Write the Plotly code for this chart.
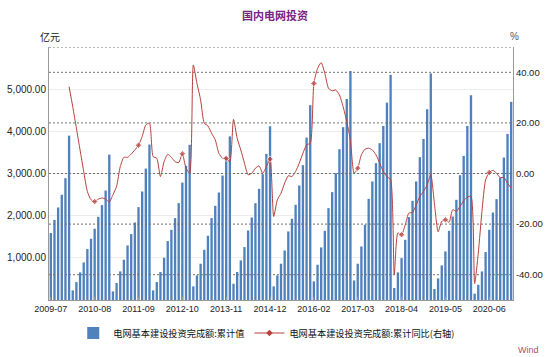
import plotly.graph_objects as go

# ---------------- data ----------------
years = list(range(2009, 2021))
months = []
for yr in years:
    first = 7 if yr == 2009 else 2   # January not published (Jan-Feb combined)
    for m in range(first, 13):
        months.append(f"{yr}-{m:02d}")

tick_labels = ["2009-07", "2010-08", "2011-09", "2012-10", "2013-11", "2014-12",
               "2016-02", "2017-03", "2018-04", "2019-05", "2020-06"]

left_ticks = [1000, 2000, 3000, 4000, 5000]
right_ticks = [-40, -20, 0, 20, 40]
right_tick_text = ["-40.00", "-20.00", "0.00", "20.00", "40.00"]

# 电网基本建设投资完成额:累计值 (亿元)
invest_cum = [
    1590, 1900, 2195, 2495, 2890, 3898,                              # 2009 Jul-Dec
    228, 425, 655, 891, 1207, 1452, 1689, 1973, 2250, 2596, 3448,     # 2010
    204, 402, 678, 955, 1294, 1563, 1838, 2203, 2573, 3117, 3687,     # 2011
    228, 426, 663, 1002, 1397, 1665, 1942, 2297, 2785, 3181, 3680,    # 2012
    323, 583, 860, 1191, 1523, 1942, 2234, 2549, 2952, 3378, 3880,    # 2013
    386, 663, 939, 1255, 1649, 1957, 2297, 2636, 2984, 3465, 4120,    # 2014
    323, 583, 860, 1175, 1626, 1926, 2257, 2715, 3197, 3852, 4620,    # 2015
    441, 836, 1246, 1641, 2179, 2558, 3008, 3576, 4098, 4768, 5430,   # 2016
    464, 860, 1270, 1784, 2399, 2810, 3245, 3719, 4128, 4681, 5340,   # 2017
    284, 655, 994, 1428, 1966, 2352, 2810, 3387, 3820, 4524, 5373,    # 2018
    260, 512, 820, 1152, 1641, 1981, 2376, 2960, 3418, 4128, 4856,    # 2019
    149, 361, 678, 1137, 1665, 2075, 2392, 2904, 3378, 3939, 4699,    # 2020
]

# 电网基本建设投资完成额:累计同比 (%)
yoy_cum = [
    None, None, None, None, None, 34.3,
    26.4, 17.9, 9.3, 0.8, -7.1, -10.4, -11.1, -10.1, -9.7, -10.1, -11.3,
    -8.4, -5.1, 2.7, 6.4, 6.4, 7.7, 9.3, 11.2, 14.6, 19.2, 19.9,
    6.7, 6.0, -1.2, 4.7, 7.6, 6.4, 4.7, 4.3, 7.8, 2.1, 0.1,
    42.9, 35.6, 29.1, 19.9, 18.8, 15.9, 13.3, 8.0, 6.0, 6.0, 4.5,
    21.4, 13.9, 9.3, 4.1, -0.5, 0.1, 2.1, 3.0, 0.1, 2.7, 5.7,
    -17.0, -10.4, -7.8, -3.8, -0.9, -1.2, 0.8, 4.1, 8.0, 11.3, 12.0,
    35.6, 41.5, 43.8, 39.6, 33.7, 32.7, 33.0, 31.0, 26.4, 20.5, 13.0,
    0.1, 2.1, 7.4, 9.6, 10.0, 9.3, 7.4, 4.1, 0.8, -1.2, -2.5,
    -40.0, -23.5, -24.2, -20.3, -15.6, -15.4, -12.4, -9.1, -7.1, -4.5, -0.5,
    -12.0, -23.0, -18.9, -18.3, -19.3, -14.3, -15.0, -13.0, -10.8, -9.3, -9.1,
    -43.5, -31.4, -15.0, -2.5, 0.4, 1.2, 0.1, -1.6, -1.6, -3.8, -5.8,
]

bar_name = "电网基本建设投资完成额:累计值"
line_name = "电网基本建设投资完成额:累计同比(右轴)"

# ---------------- style ----------------
BAR_COLOR = "#4F81BD"
LINE_COLOR = "#B8403C"
FONT = "Liberation Sans, Arial, Noto Sans CJK SC, sans-serif"
CJK = "Noto Sans CJK SC, Liberation Sans, sans-serif"

marker_sizes = [5 if (i % 12 == 0 and v is not None) else 0 for i, v in enumerate(yoy_cum)]

fig = go.Figure()
fig.add_trace(go.Bar(
    x=months, y=invest_cum, name=bar_name,
    marker=dict(color=BAR_COLOR, line=dict(width=0)),
    yaxis="y", showlegend=True,
))
fig.add_trace(go.Scatter(
    x=months, y=yoy_cum, name=line_name, yaxis="y2",
    mode="lines+markers", connectgaps=False,
    line=dict(color=LINE_COLOR, width=1, shape="spline", smoothing=0.6),
    marker=dict(color=LINE_COLOR, size=marker_sizes, symbol="diamond"),
    showlegend=False,
))
# legend entry for the line series
fig.add_trace(go.Scatter(
    x=[None], y=[None], name=line_name, yaxis="y2",
    mode="lines+markers",
    line=dict(color=LINE_COLOR, width=1),
    marker=dict(color=LINE_COLOR, size=5, symbol="diamond"),
))

shapes = []
for v in right_ticks + [50]:
    shapes.append(dict(type="line", xref="paper", x0=0, x1=1, yref="y2", y0=v, y1=v,
                       line=dict(color="#707070", width=1, dash="2px,2px"), layer="above"))

fig.update_layout(
    template="none",
    width=550, height=357,
    margin=dict(l=49, r=37, t=47, b=57, autoexpand=False),
    paper_bgcolor="white", plot_bgcolor="white",
    bargap=0.36,
    hovermode=False,
    font=dict(family=FONT, size=10, color="#222222"),
    title=dict(text="<b>国内电网投资</b>", x=0.5, xref="container", xanchor="center",
               y=1 - 16 / 357, yref="container", yanchor="middle",
               font=dict(family=CJK, size=11, color="#7B2382")),
    xaxis=dict(type="category", tickmode="array", tickvals=tick_labels, ticktext=tick_labels,
               tickfont=dict(family=FONT, size=9, color="#222222"),
               showgrid=False, showline=True, linecolor="#999999", linewidth=1,
               ticks="inside", ticklen=3, tickcolor="#999999", automargin=False,
               range=[-0.5, len(months) - 0.5]),
    yaxis=dict(range=[0, 6000], tickvals=left_ticks,
               tickformat=",.2f", tickfont=dict(size=10, color="#222222"),
               showgrid=True, gridcolor="#ececec", gridwidth=1,
               showline=True, linecolor="#999999", linewidth=1, zeroline=False,
               ticks="", ticklen=0, automargin=False),
    yaxis2=dict(range=[-50, 50], overlaying="y", side="right",
                tickmode="array", tickvals=right_ticks, ticktext=right_tick_text,
                tickfont=dict(size=9.5, color="#222222"),
                showgrid=False, zeroline=False, automargin=False,
                showline=True, linecolor="#999999", linewidth=1, ticks="", ticklen=0),
    legend=dict(orientation="h", xref="container", yref="container",
                x=0.485, xanchor="center", y=1 - 333 / 357, yanchor="middle",
                font=dict(family=CJK, size=9.2, color="#111111"),
                itemwidth=30, tracegroupgap=0, bgcolor="rgba(0,0,0,0)"),
    shapes=shapes,
    annotations=[
        dict(text="亿元", xref="paper", yref="paper", x=(50 - 49) / 463.7, y=(300.3 - 36) / 253.3,
             showarrow=False, xanchor="center", yanchor="middle",
             font=dict(family=CJK, size=10, color="#222222")),
        dict(text="%", xref="paper", yref="paper", x=(514 - 49) / 463.7, y=(300.3 - 36) / 253.3,
             showarrow=False, xanchor="center", yanchor="middle",
             font=dict(family=FONT, size=10, color="#555555")),
        dict(text="Wind", xref="paper", yref="paper", x=(528 - 49) / 463.7, y=(300.3 - 350) / 253.3,
             showarrow=False, xanchor="center", yanchor="middle",
             font=dict(family=FONT, size=9, color="#B05060")),
    ],
)

fig.write_html("out.html",
               config={"displayModeBar": False},
               post_script="document.body.style.margin='0';document.body.style.overflow='hidden';")
